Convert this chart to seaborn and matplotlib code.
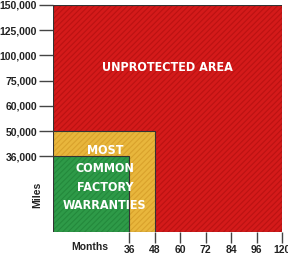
import numpy as np
import matplotlib
matplotlib.use("Agg")
import matplotlib.pyplot as plt
import seaborn as sns

# Данные
month_ticks = [36, 48, 60, 72, 84, 96, 120]
mile_ticks = [36000, 50000, 60000, 75000, 100000, 125000, 150000]
zones = ["UNPROTECTED AREA", "EXTENDED", "MOST\nCOMMON\nFACTORY\nWARRANTIES"]
zone_months = [120, 48, 36]
zone_miles = [150000, 50000, 36000]
zone_colors = ["#d41a1a", "#e8b63c", "#2e9a48"]
hatch_colors = ["#bb1212", "#d9a22c", "#24893c"]

sns.set_theme(style="white")
plt.rcParams["font.family"] = ["Liberation Sans", "DejaVu Sans"]
plt.rcParams["hatch.linewidth"] = 0.8

# Неравномерные шкалы: каждое деление на одинаковом расстоянии
mx = [0] + month_ticks
my = [0] + mile_ticks
pos = np.arange(len(mx), dtype=float)
pos[1:] += 2


def fx(v):
    return np.interp(v, mx, pos)


def ix(v):
    return np.interp(v, pos, mx)


def fy(v):
    return np.interp(v, my, pos)


def iy(v):
    return np.interp(v, pos, my)


fig = plt.figure(figsize=(2.88, 2.57), dpi=100)
ax = fig.add_axes([0.184, 0.097, 0.795, 0.884])
ax.set_xscale("function", functions=(fx, ix))
ax.set_yscale("function", functions=(fy, iy))

for m, mi, c, hc in zip(zone_months, zone_miles, zone_colors, hatch_colors):
    ax.bar(0, mi, width=m, align="edge", color=c, edgecolor=hc,
           hatch="//////", linewidth=0)
    ax.bar(0, mi, width=m, align="edge", fill=False, edgecolor="#333333",
           linewidth=0.8)

ax.set_xlim(0, 120)
ax.set_ylim(0, 150000)
ax.set_xticks(month_ticks)
ax.set_yticks(mile_ticks)
ax.set_xticklabels([str(v) for v in month_ticks])
ax.set_yticklabels([f"{v:,}" for v in mile_ticks])
ax.tick_params(axis="both", left=True, bottom=True, width=1.0,
               color="#444444", labelsize=7.5, pad=1.5, direction="out")
ax.tick_params(axis="y", length=10)
ax.tick_params(axis="x", length=8)
for lab in ax.get_xticklabels() + ax.get_yticklabels():
    lab.set_fontweight("bold")
    lab.set_color("#222222")
for s in ax.spines.values():
    s.set_visible(False)

cond = dict(family=["DejaVu Sans"], fontstretch="condensed",
            fontweight="bold", color="white", ha="center", va="center")
ax.text(54, 87500, zones[0], fontsize=9, **cond)
ax.text(24.5, 25700, zones[2], fontsize=9, linespacing=1.55, **cond)

fig.text(0.128, 0.24, "Miles", rotation=90, fontsize=7.5, fontweight="bold",
         ha="center", va="center", color="#222222")
fig.text(0.31, 0.04, "Months", fontsize=7.5, fontweight="bold",
         ha="center", va="center", color="#222222")

fig.savefig("out.png", dpi=100)
